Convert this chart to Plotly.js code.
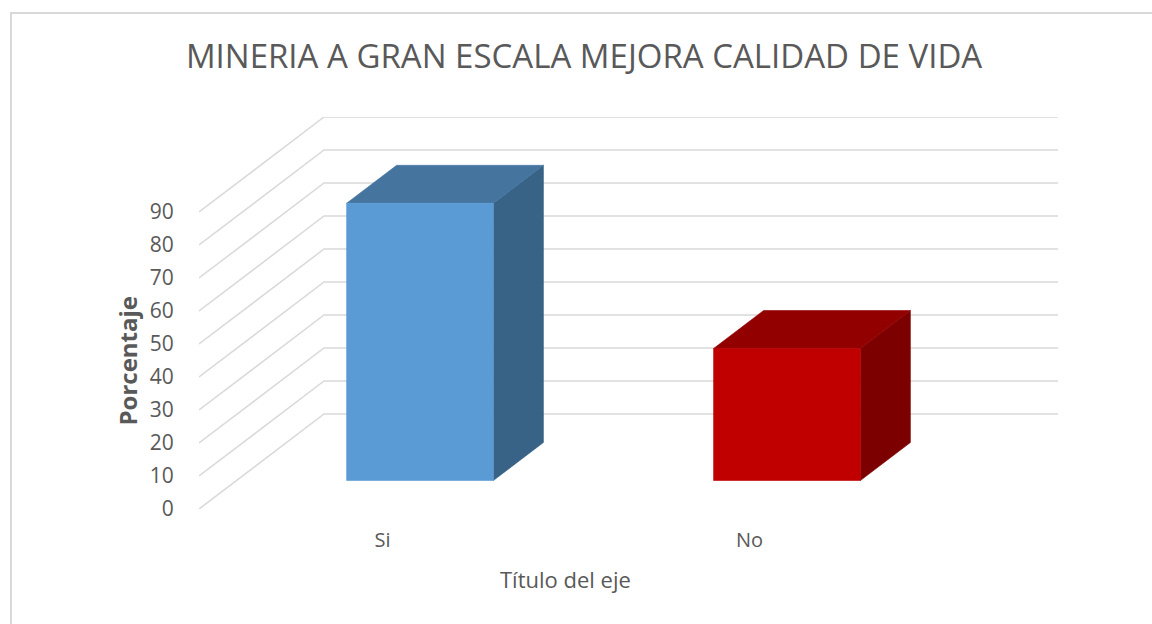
<!DOCTYPE html>
<html>
<head>
<meta charset="utf-8">
<script src="https://cdn.plot.ly/plotly-3.0.1.min.js"></script>
<style>
  html, body { margin:0; padding:0; background:#ffffff; overflow:hidden; }
  #chart { position:absolute; left:0; top:0; width:1152px; height:624px; }
  #frame { position:absolute; left:10px; top:12px; width:1200px; height:700px;
           border:2px solid #D9D9D9; box-sizing:border-box; pointer-events:none; }
</style>
</head>
<body>
<div id="chart"></div>
<div id="frame"></div>
<script>
// ---- data ----
const categories = ['Si', 'No'];
const values = [84, 40];
const yTicks = [0, 10, 20, 30, 40, 50, 60, 70, 80, 90];
const barColors = {
  front: ['#5B9BD5', '#C00000'],
  top:   ['#45749F', '#920000'],
  side:  ['#386286', '#7D0000']
};

// ---- 3D oblique projection parameters (in axis units) ----
const DX = 0.3407;   // depth shift along x (category units)
const DY = 28.79;    // depth shift along y (value units)
const F0 = 0.3, F1 = 0.7;  // bar front / back depth fractions
const HALF = 0.2;          // half bar width (category units)
const yMaxTick = yTicks[yTicks.length - 1];
const nCat = categories.length;

const traces = [];

// back wall + left wall gridlines
const gx = [], gy = [];
yTicks.forEach(v => {
  gx.push(0, DX, nCat + DX, null);
  gy.push(v, v + DY, v + DY, null);
});
traces.push({
  type: 'scatter', mode: 'lines', x: gx, y: gy,
  line: { color: '#D9D9D9', width: 1.5 }, hoverinfo: 'skip',
  cliponaxis: false, showlegend: false
});

function poly(xs, ys, color) {
  traces.push({
    type: 'scatter', mode: 'lines', fill: 'toself',
    x: xs.concat([xs[0]]), y: ys.concat([ys[0]]),
    fillcolor: color, line: { color: color, width: 0.6 },
    hoverinfo: 'skip', showlegend: false, cliponaxis: false
  });
}

categories.forEach((c, i) => {
  const v = values[i];
  const xl = i + 0.5 - HALF, xr = i + 0.5 + HALF;
  const x0 = F0 * DX, y0 = F0 * DY, x1 = F1 * DX, y1 = F1 * DY;
  // side face
  poly([xr + x0, xr + x1, xr + x1, xr + x0],
       [y0, y1, y1 + v, y0 + v], barColors.side[i]);
  // top face
  poly([xl + x0, xr + x0, xr + x1, xl + x1],
       [y0 + v, y0 + v, y1 + v, y1 + v], barColors.top[i]);
  // front face
  poly([xl + x0, xr + x0, xr + x0, xl + x0],
       [y0, y0, y0 + v, y0 + v], barColors.front[i]);
});

const txt = '#595959';
const layout = {
  width: 1152, height: 624,
  paper_bgcolor: 'rgba(0,0,0,0)', plot_bgcolor: 'rgba(0,0,0,0)',
  margin: { l: 199, r: 94, t: 117, b: 115 },
  showlegend: false,
  title: {
    text: 'MINERIA A GRAN ESCALA MEJORA CALIDAD DE VIDA',
    x: 0.507, xanchor: 'center', y: 0.91, yanchor: 'middle',
    xref: 'container', yref: 'container',
    font: { family: 'Open Sans, sans-serif', size: 33, color: txt }
  },
  xaxis: {
    range: [0, nCat + DX], showgrid: false, zeroline: false, showline: false,
    tickmode: 'array', tickvals: categories.map((c, i) => i + 0.5), ticktext: categories,
    ticks: 'outside', ticklen: 13, tickcolor: 'rgba(0,0,0,0)',
    tickfont: { family: 'Open Sans, sans-serif', size: 20, color: txt },
    fixedrange: true
  },
  yaxis: {
    range: [0, yMaxTick + DY], showgrid: false, zeroline: false, showline: false,
    tickmode: 'array', tickvals: yTicks, ticktext: yTicks.map(String),
    ticks: 'outside', ticklen: 20, tickcolor: 'rgba(0,0,0,0)',
    tickfont: { family: 'Open Sans, sans-serif', size: 21, color: txt },
    fixedrange: true
  },
  annotations: [
    {
      text: 'Título del eje', xref: 'x', x: nCat / 2, yref: 'paper', y: 0,
      xanchor: 'center', yanchor: 'middle', yshift: -70, showarrow: false,
      font: { family: 'Open Sans, sans-serif', size: 22, color: txt }
    },
    {
      text: '<b>Porcentaje</b>', xref: 'paper', x: 0, xshift: -72,
      yref: 'y', y: yMaxTick / 2, xanchor: 'center', yanchor: 'middle',
      textangle: -90, showarrow: false,
      font: { family: 'Open Sans, sans-serif', size: 24, color: txt }
    }
  ]
};

Plotly.newPlot('chart', traces, layout, { displayModeBar: false, staticPlot: true });
</script>
</body>
</html>
